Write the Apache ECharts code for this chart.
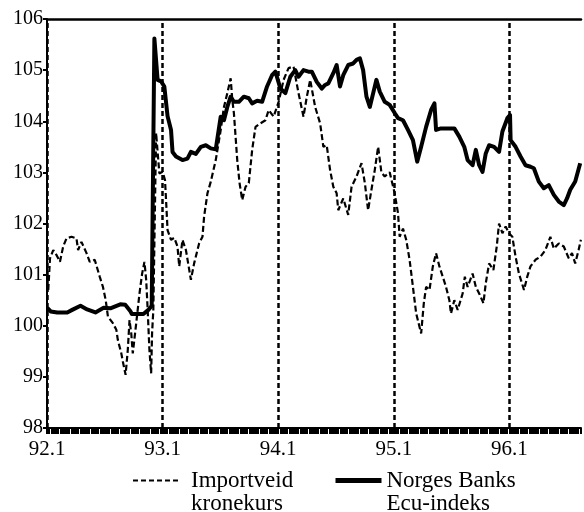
<!DOCTYPE html>
<html>
<head>
<meta charset="utf-8">
<title>Importveid kronekurs og Ecu-indeks</title>
<script src="https://cdn.jsdelivr.net/npm/echarts@6/dist/echarts.min.js"></script>
<style>
  html, body {margin: 0; padding: 0; background: #fff;}
  #chart {width: 584px; height: 512px;}
</style>
</head>
<body>
<div id="chart"></div>
<script>
/*tid i desimalår (92.0 = januar 1992)*/
var ecuTime = [92.003, 92.032, 92.089, 92.175, 92.218, 92.290, 92.347, 92.419, 92.490, 92.548, 92.634, 92.677, 92.720, 92.734, 92.834, 92.877, 92.906,
  92.929, 92.957, 92.987, 93.015, 93.043, 93.073, 93.086, 93.116, 93.172, 93.215, 93.245, 93.288, 93.331, 93.374, 93.417, 93.460,
  93.503, 93.531, 93.560, 93.589, 93.617, 93.660, 93.703, 93.746, 93.775, 93.818, 93.861, 93.904, 93.947, 93.976,
  94.019, 94.062, 94.105, 94.148, 94.176, 94.219, 94.262, 94.291, 94.334, 94.377, 94.406, 94.434, 94.477, 94.506, 94.535, 94.563,
  94.606, 94.649, 94.678, 94.707, 94.735, 94.764, 94.793, 94.822, 94.850, 94.879, 94.922, 94.965,
  95.008, 95.037, 95.080, 95.123, 95.166, 95.203, 95.237, 95.280, 95.323, 95.352, 95.366, 95.409, 95.467, 95.524, 95.567, 95.610,
  95.639, 95.682, 95.710, 95.739, 95.768, 95.796, 95.825, 95.868, 95.911, 95.940, 95.983,
  96.006, 96.011, 96.054, 96.097, 96.140, 96.183, 96.212, 96.255, 96.298, 96.341, 96.385, 96.428, 96.471, 96.499, 96.527, 96.570, 96.613];
var ecuValue = [100.35, 100.28, 100.26, 100.26, 100.31, 100.39, 100.32, 100.26, 100.35, 100.34, 100.42, 100.41, 100.29, 100.23, 100.23, 100.31, 100.39,
  105.62, 104.81, 104.78, 104.68, 104.10, 103.83, 103.40, 103.31, 103.24, 103.27, 103.40, 103.36, 103.50, 103.53, 103.47, 103.45,
  104.09, 104.02, 104.28, 104.48, 104.38, 104.38, 104.48, 104.45, 104.35, 104.40, 104.38, 104.68, 104.90, 104.97,
  104.64, 104.55, 104.87, 105.00, 104.87, 105.00, 104.97, 104.97, 104.77, 104.64, 104.71, 104.74, 104.94, 105.10, 104.68, 104.90,
  105.10, 105.13, 105.20, 105.23, 105.00, 104.48, 104.28, 104.55, 104.81, 104.58, 104.38, 104.32,
  104.16, 104.06, 104.02, 103.83, 103.63, 103.21, 103.50, 103.89, 104.22, 104.35, 103.83, 103.86, 103.86, 103.86, 103.70, 103.50,
  103.24, 103.14, 103.44, 103.14, 103.01, 103.37, 103.53, 103.50, 103.40, 103.80, 104.06,
  104.12, 103.63, 103.50, 103.31, 103.14, 103.11, 103.08, 102.82, 102.69, 102.75, 102.56, 102.43, 102.36, 102.49, 102.66, 102.82, 103.18];

var impTime = [92.011, 92.026, 92.054, 92.083, 92.112, 92.140, 92.169, 92.212, 92.255, 92.269, 92.298, 92.342, 92.370, 92.413, 92.456, 92.484,
  92.508, 92.527, 92.570, 92.600, 92.613, 92.643, 92.656, 92.680, 92.699, 92.714, 92.729, 92.742, 92.772, 92.800, 92.823, 92.843,
  92.858, 92.871, 92.886, 92.901, 92.909, 92.920, 92.944, 92.972, 93.000, 93.021, 93.030, 93.043, 93.073, 93.101, 93.129, 93.144,
  93.172, 93.202, 93.245, 93.273, 93.316, 93.345, 93.359, 93.388, 93.417, 93.460, 93.503, 93.531, 93.560, 93.589, 93.603, 93.617,
  93.646, 93.666, 93.689, 93.718, 93.746, 93.775, 93.804, 93.847, 93.890, 93.918, 93.961,
  94.004, 94.047, 94.090, 94.133, 94.176, 94.219, 94.248, 94.277, 94.320, 94.363, 94.391, 94.420, 94.449, 94.477, 94.506, 94.520,
  94.563, 94.606, 94.635, 94.678, 94.721, 94.750, 94.778, 94.807, 94.836, 94.865, 94.893, 94.922, 94.965,
  95.008, 95.037, 95.051, 95.080, 95.108, 95.137, 95.166, 95.194, 95.215, 95.237, 95.260, 95.280, 95.309, 95.338, 95.366, 95.395,
  95.424, 95.452, 95.481, 95.495, 95.524, 95.553, 95.596, 95.615, 95.639, 95.682, 95.710, 95.739, 95.776, 95.796, 95.825, 95.862,
  95.891, 95.911, 95.940, 95.968, 95.997, 96.026, 96.054, 96.083, 96.127, 96.155, 96.183, 96.226, 96.269, 96.312, 96.355, 96.385,
  96.428, 96.471, 96.514, 96.542, 96.570, 96.599, 96.619];
var impValue = [100.70, 101.32, 101.48, 101.38, 101.25, 101.55, 101.71, 101.74, 101.71, 101.48, 101.64, 101.42, 101.25, 101.29, 100.96, 100.76,
  100.50, 100.18, 100.05, 99.92, 99.72, 99.46, 99.30, 99.04, 99.53, 100.11, 99.85, 99.46, 100.05, 100.63, 101.02, 101.25,
  100.90, 100.31, 99.53, 99.07, 99.85, 100.31, 103.77, 102.98, 103.01, 102.85, 102.46, 101.87, 101.68, 101.72, 101.55, 101.16,
  101.68, 101.48, 100.90, 101.22, 101.61, 101.74, 102.13, 102.59, 102.82, 103.24, 103.83, 104.28, 104.55, 104.84, 104.42, 104.16,
  103.24, 102.79, 102.46, 102.72, 102.79, 103.44, 103.89, 103.96, 104.02, 104.22, 104.09,
  104.38, 104.81, 105.04, 105.07, 104.55, 104.09, 104.48, 104.81, 104.28, 103.96, 103.50, 103.53, 103.05, 102.72, 102.59, 102.26,
  102.49, 102.17, 102.72, 102.92, 103.18, 102.79, 102.26, 102.66, 103.05, 103.50, 103.00, 102.92, 103.00,
  102.59, 102.20, 101.74, 101.90, 101.68, 101.29, 100.76, 100.24, 100.05, 99.85, 100.44, 100.76, 100.70, 101.16, 101.42, 101.16,
  100.96, 100.76, 100.50, 100.24, 100.50, 100.31, 100.63, 100.96, 100.76, 101.02, 100.76, 100.63, 100.44, 100.83, 101.22, 101.09,
  101.55, 102.00, 101.81, 101.94, 101.81, 101.74, 101.35, 101.02, 100.70, 100.96, 101.16, 101.29, 101.35, 101.48, 101.74, 101.51,
  101.61, 101.55, 101.32, 101.42, 101.22, 101.48, 101.68];

/*årsskiller (stiplede loddlinjer)*/
var yearLines = [92, 93, 94, 95, 96];
var seriesNames = ['Importveid kronekurs', 'Norges Banks Ecu-indeks'];
//tom første linje slik at første tekstlinje står midt ud for symbolet
var legendText = ['\nImportveid\nkronekurs', '\nNorges Banks\nEcu-indeks'];

var serif = 'Liberation Serif, Times New Roman, serif';

function pairs(t, v) {
  var arr = [];
  for (var i = 0; i < t.length; i++) {
    arr.push([t[i], v[i]]);
  }
  return arr;
}

var chart = echarts.init(document.getElementById('chart'), null, {renderer: 'canvas'});

var option = {
  animation: false,
  backgroundColor: '#fff',
  grid: {left: 47, right: 0, top: 19, bottom: 84, containLabel: false},
  legend: [{
    data: [seriesNames[0]],
    left: 132,
    top: 446,
    padding: 0,
    itemWidth: 47,
    itemHeight: 14,
    itemStyle: {opacity: 0},
    lineStyle: {width: 2, type: [5, 3]},
    formatter: function () { return legendText[0]; },
    textStyle: {fontFamily: serif, fontSize: 23, lineHeight: 23, color: '#000', padding: [0, 0, 0, 6]}
  }, {
    data: [seriesNames[1]],
    left: 333,
    top: 446,
    padding: 0,
    itemWidth: 46,
    itemHeight: 14,
    itemStyle: {opacity: 0},
    lineStyle: {width: 5},
    formatter: function () { return legendText[1]; },
    textStyle: {fontFamily: serif, fontSize: 23, lineHeight: 23, color: '#000', padding: [0, 0, 0, 0]}
  }],
  xAxis: [{
    type: 'value',
    min: 92,
    max: 96.62,
    interval: 1,
    axisLine: {show: true, onZero: false, lineStyle: {color: '#000', width: 2}},
    axisTick: {show: true, length: 6, lineStyle: {color: '#000', width: 2}},
    minorTick: {show: true, splitNumber: 52, length: 6, lineStyle: {color: '#000', width: 2}},
    axisLabel: {
      margin: 11,
      fontFamily: serif,
      fontSize: 21,
      color: '#000',
      formatter: function (v) {
        return v % 1 === 0 ? v + '.1' : '';
      }
    },
    splitLine: {show: false}
  }, {
    type: 'value',
    position: 'top',
    min: 92,
    max: 96.62,
    axisLine: {show: true, onZero: false, lineStyle: {color: '#000', width: 2.5}},
    axisTick: {show: false},
    axisLabel: {show: false},
    splitLine: {show: false}
  }],
  yAxis: {
    type: 'value',
    min: 98,
    max: 106,
    interval: 1,
    axisLine: {show: true, lineStyle: {color: '#000', width: 2}},
    axisTick: {show: true, length: 4, lineStyle: {color: '#000', width: 2}},
    axisLabel: {margin: 4, fontFamily: serif, fontSize: 20, color: '#000'},
    splitLine: {show: false}
  },
  series: [{
    name: seriesNames[0],
    type: 'line',
    symbol: 'none',
    z: 2,
    data: pairs(impTime, impValue),
    lineStyle: {color: '#000', width: 2.2, type: [6, 3]},
    itemStyle: {color: '#000'},
    markLine: {
      silent: true,
      symbol: 'none',
      label: {show: false},
      lineStyle: {color: '#000', width: 2.5, type: [5, 3]},
      data: yearLines.map(function (y) { return {xAxis: y}; })
    }
  }, {
    name: seriesNames[1],
    type: 'line',
    symbol: 'none',
    z: 3,
    data: pairs(ecuTime, ecuValue),
    lineStyle: {color: '#000', width: 4, join: 'round'},
    itemStyle: {color: '#000'}
  }]
};

chart.setOption(option);
</script>
</body>
</html>
